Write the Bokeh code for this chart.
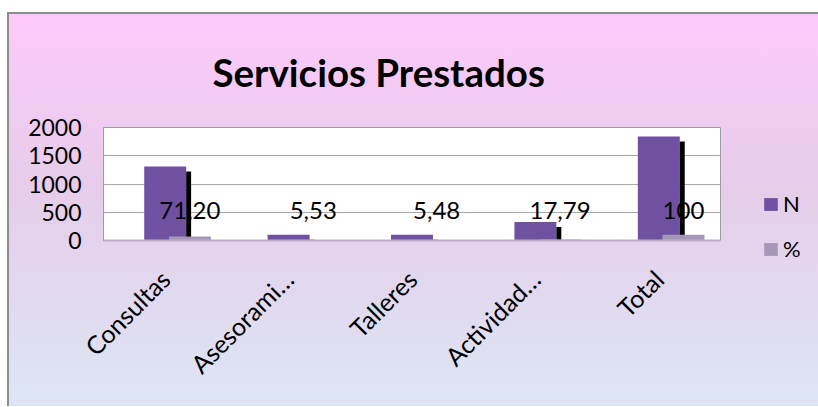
import math
from bokeh.plotting import figure
from bokeh.models import ColumnDataSource, FactorRange, Legend, LegendItem
from bokeh.transform import dodge
from bokeh.core.properties import value
from bokeh.embed import file_html
from bokeh.resources import INLINE

# ---- data ----
categories = ["Consultas", "Asesorami…", "Talleres", "Actividad…", "Total"]
n_values = [1310, 102, 101, 327, 1840]
pct_values = [71.20, 5.53, 5.48, 17.79, 100]
pct_labels = ["71,20", "5,53", "5,48", "17,79", "100"]
y_ticks = [0, 500, 1000, 1500, 2000]

FONT = "Lato"

src = ColumnDataSource(dict(cat=categories, n=n_values, pct=pct_values, lab=pct_labels,
                            zero=[0] * len(categories)))

p = figure(x_range=FactorRange(*categories), y_range=(0, 2000),
           frame_width=617, frame_height=113, output_backend="svg", toolbar_location=None,
           title="Servicios Prestados")
p.min_border_left = 94
p.min_border_right = 97
p.min_border_top = 113
p.min_border_bottom = 166

p.border_fill_color = None
p.background_fill_color = "white"
p.outline_line_color = "#9c9c9c"
p.styles = {
    "background": "linear-gradient(to bottom, #fdc9fb 0%, #e6cdea 45%, #dde6f5 100%)",
    "border-top": "2px solid #8c8c8c",
    "border-left": "2px solid #8c8c8c",
    "margin-top": "12px",
    "margin-left": "7px",
}

p.title.align = "left"
p.title.offset = 109
p.title.text_font = FONT
p.title.text_font_size = "38.5px"
p.title.text_font_style = "bold"
p.title.text_color = "black"
p.title.standoff = 65

# bars
rN = p.vbar(x="cat", top="n", width=0.34, source=src,
            fill_color="#7050a0", line_color=None)
p.vbar(x=dodge("cat", 0.19, range=p.x_range), top=dodge("n", -88), width=0.04, source=src,
       fill_color="black", line_color=None)
rP = p.vbar(x=dodge("cat", 0.2, range=p.x_range), top="pct", width=0.34, source=src,
            fill_color="#a597b8", line_color=None)

p.text(x=dodge("cat", 0.2, range=p.x_range), y="zero", text="lab", source=src,
       text_font=value(FONT), text_font_size="24px", text_color="black",
       text_align="center", text_baseline="middle", y_offset=-30)

# axes
p.yaxis.ticker = y_ticks
p.yaxis.major_label_text_font = FONT
p.yaxis.major_label_text_font_size = "23px"
p.yaxis.major_label_text_color = "black"
p.yaxis.major_tick_line_color = None
p.yaxis.minor_tick_line_color = None
p.yaxis.major_tick_out = 0
p.yaxis.major_label_standoff = 22
p.yaxis.axis_line_color = "#9c9c9c"

p.xaxis.major_label_orientation = math.pi / 4
p.xaxis.major_label_text_font = FONT
p.xaxis.major_label_text_font_size = "25px"
p.xaxis.major_label_text_color = "black"
p.xaxis.major_tick_line_color = None
p.xaxis.major_tick_out = 0
p.xaxis.major_label_standoff = 34
p.xaxis.axis_line_color = "#bcaecb"
p.xaxis.axis_line_width = 2

p.xgrid.grid_line_color = None
p.ygrid.grid_line_color = "#a8a8a8"

legend = Legend(items=[LegendItem(label="N", renderers=[rN]),
                       LegendItem(label="%", renderers=[rP])],
                location=(42, -22))
legend.padding = 0
legend.margin = 0
legend.border_line_color = None
legend.background_fill_alpha = 0
legend.glyph_width = 17
legend.glyph_height = 16
legend.label_height = 16
legend.label_width = 22
legend.spacing = 18
legend.label_standoff = 4
legend.label_text_font = FONT
legend.label_text_font_size = "22px"
legend.label_text_color = "black"
p.add_layout(legend, "right")

open("out.html", "w").write(file_html(p, INLINE))
